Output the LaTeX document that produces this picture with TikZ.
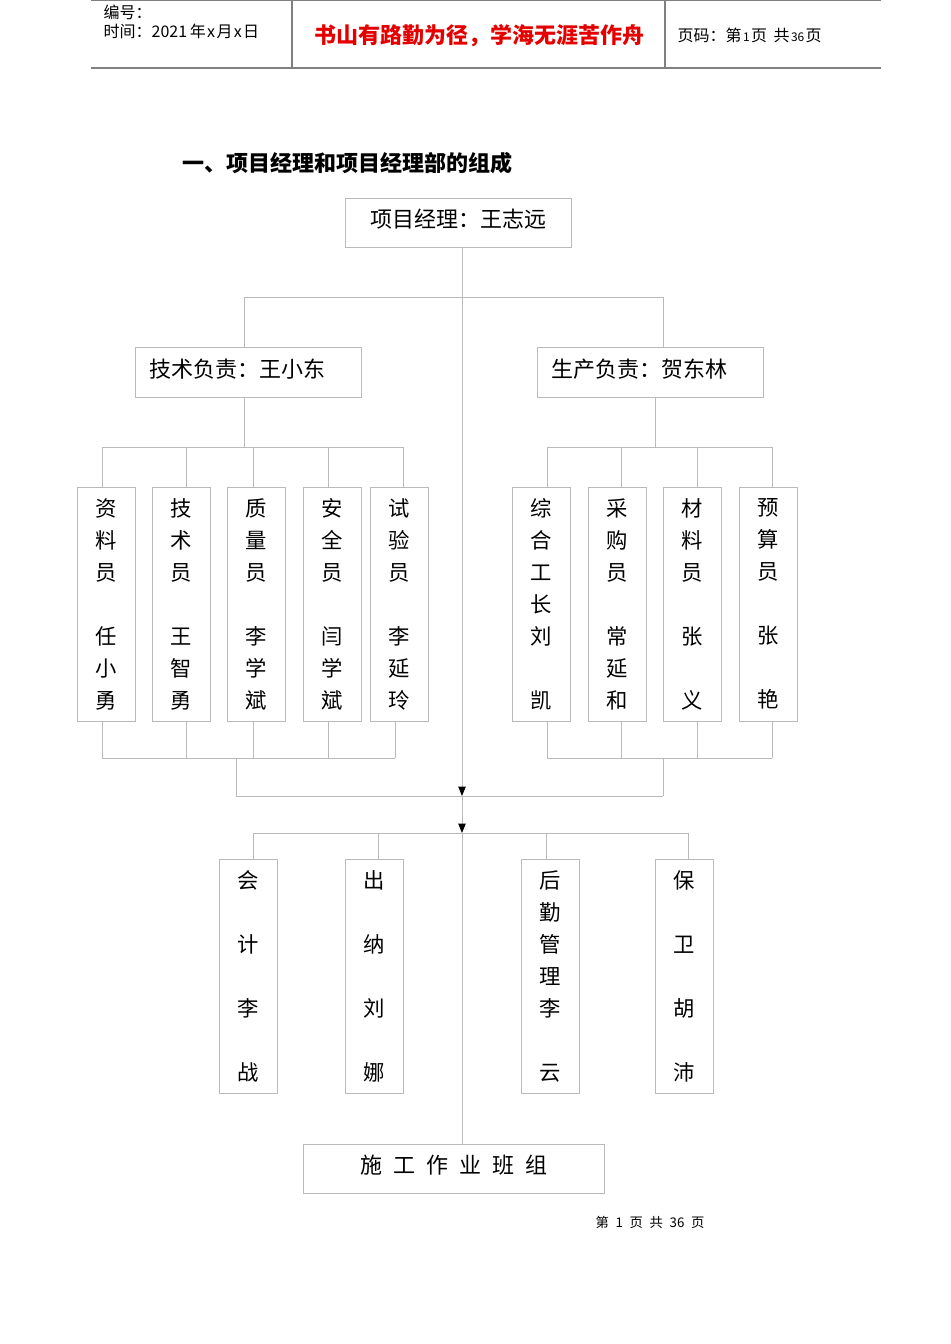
\documentclass[tikz,border=0pt]{standalone}
\usepackage{fontspec}
\newfontfamily\cjk{Noto Sans CJK SC}
\usetikzlibrary{arrows.meta}

\begin{document}
\begin{tikzpicture}[x=0.75pt,y=-0.75pt,font=\cjk,
	line/.style={draw=black!27,line width=0.75pt},
	hline/.style={draw=black!50,line width=0.9pt},
	arr/.style={line,-{Triangle[length=7pt,width=5.5pt,color=black]}},
	box/.style={draw=black!27,line width=0.75pt,inner sep=0pt,minimum width=169.5pt,minimum height=37pt,text height=12pt,text depth=5pt,font=\cjk\fontsize{16.5}{20}\selectfont},
	lbox/.style={box,text width=148.5pt,inner xsep=10.5pt,align=left},
	vbox/.style={draw=black!27,line width=0.75pt,inner sep=0pt,minimum width=43.5pt,minimum height=175.5pt,align=center,font=\cjk\fontsize{16}{24}\selectfont}]
	\useasboundingbox (0,0) rectangle (950,1344);
	% header
	\draw[hline] (91,0.5) -- (881,0.5);
	\draw[hline] (91,68) -- (881,68);
	\draw[hline] (292,0) -- (292,68);
	\draw[hline] (665,0) -- (665,68);
	\node[anchor=west,font=\cjk\fontsize{12}{14}\selectfont] (bianhao) at (99,12) {编号：};
	\node[anchor=west,font=\cjk\fontsize{12}{14}\selectfont] (shijian) at (99,31) {时间：2021\hspace{2pt}年\hspace{1pt}x\hspace{1pt}月\hspace{1pt}x\hspace{1pt}日};
	\node[font=\cjk\bfseries\fontsize{16.5}{20}\selectfont,text=red!90!black] (motto) at (479,36) {书山有路勤为径，学海无涯苦作舟};
	\node[anchor=west,font=\cjk\fontsize{12}{14}\selectfont] (yema) at (673,35) {页码：第\hspace{1pt}{\fontsize{9}{10}\selectfont 1}\hspace{1pt}页\hspace{5pt}共\hspace{1pt}{\fontsize{9}{10}\selectfont 36}\hspace{1pt}页};
	\node[anchor=west,font=\cjk\bfseries\fontsize{16.5}{20}\selectfont] (title) at (178,163) {一、项目经理和项目经理部的组成};
	% boxes
	\node[box] (pm) at (458,223) {项目经理：王志远};
	\node[lbox] (tech) at (248,372.5) {技术负责：王小东};
	\node[lbox] (prod) at (650,372.5) {生产负责：贺东林};
	\node[vbox] (ziliao) at (106,604) {资\\料\\员\\~\\任\\小\\勇};
	\node[vbox] (jishu) at (181.5,604) {技\\术\\员\\~\\王\\智\\勇};
	\node[vbox] (zhiliang) at (256.5,604) {质\\量\\员\\~\\李\\学\\斌};
	\node[vbox] (anquan) at (332,604) {安\\全\\员\\~\\闫\\学\\斌};
	\node[vbox] (shiyan) at (399,604) {试\\验\\员\\~\\李\\延\\玲};
	\node[vbox] (zonghe) at (541.5,604) {综\\合\\工\\长\\刘\\~\\凯};
	\node[vbox] (caigou) at (617,604) {采\\购\\员\\~\\常\\延\\和};
	\node[vbox] (cailiao) at (692.5,604) {材\\料\\员\\~\\张\\~\\义};
	\node[vbox] (yusuan) at (768,604) {预\\算\\员\\~\\张\\~\\艳};
	\node[vbox] (kuaiji) at (248.5,976) {会\\~\\计\\~\\李\\~\\战};
	\node[vbox] (chuna) at (374,976) {出\\~\\纳\\~\\刘\\~\\娜};
	\node[vbox] (houqin) at (550,976) {后\\勤\\管\\理\\李\\~\\云};
	\node[vbox] (baowei) at (684,976) {保\\~\\卫\\~\\胡\\~\\沛};
	\node[box,minimum width=225.75pt] (banzu) at (453.5,1169) {施\hspace{0.5em}工\hspace{0.5em}作\hspace{0.5em}业\hspace{0.5em}班\hspace{0.5em}组};
	\node[font=\cjk\fontsize{10}{12}\selectfont] (footer) at (650,1222) {第\hspace{5pt}1\hspace{5pt}页\hspace{5pt}共\hspace{5pt}36\hspace{5pt}页};
	% central line with arrows
	\coordinate (a1) at (462,796);
	\coordinate (a2) at (462,833);
	\draw[arr] (pm.south -| a1) -- (a1);
	\draw[arr] (a1) -- (a2);
	\draw[line] (a2) -- (a2 |- banzu.north);
	% second level
	\coordinate (jl) at (244,298);
	\coordinate (jr) at (663,298);
	\draw[line] (jl |- tech.north) -- (jl) -- (jr) -- (jr |- prod.north);
	% technical staff
	\coordinate (tl) at (244,447);
	\draw[line] (tech.south -| tl) -- (tl);
	\draw[line] (102,447) -- (403,447);
	\foreach \x/\n in {102/ziliao,186/jishu,253/zhiliang,328/anquan,403/shiyan}{
		\coordinate (b) at (\x,447);
		\draw[line] (b) -- (b |- \n.north);
	}
	\foreach \x/\n in {102/ziliao,186/jishu,253/zhiliang,328/anquan,395/shiyan}{
		\coordinate (b) at (\x,758);
		\draw[line] (b) -- (b |- \n.south);
	}
	\draw[line] (102,758) -- (395,758);
	\draw[line] (236,758) -- (236,796) -- (663,796);
	% production staff
	\coordinate (pl) at (655,447);
	\draw[line] (prod.south -| pl) -- (pl);
	\draw[line] (547,447) -- (772,447);
	\foreach \x/\n in {547/zonghe,621/caigou,697/cailiao,772/yusuan}{
		\coordinate (b) at (\x,447);
		\draw[line] (b) -- (b |- \n.north);
		\coordinate (c) at (\x,758);
		\draw[line] (c) -- (c |- \n.south);
	}
	\draw[line] (547,758) -- (772,758);
	\draw[line] (663,758) -- (663,796);
	% support staff
	\draw[line] (253,833) -- (688,833);
	\foreach \x/\n in {253/kuaiji,378/chuna,546/houqin,688/baowei}{
		\coordinate (b) at (\x,833);
		\draw[line] (b) -- (b |- \n.north);
	}
\end{tikzpicture}
\end{document}
